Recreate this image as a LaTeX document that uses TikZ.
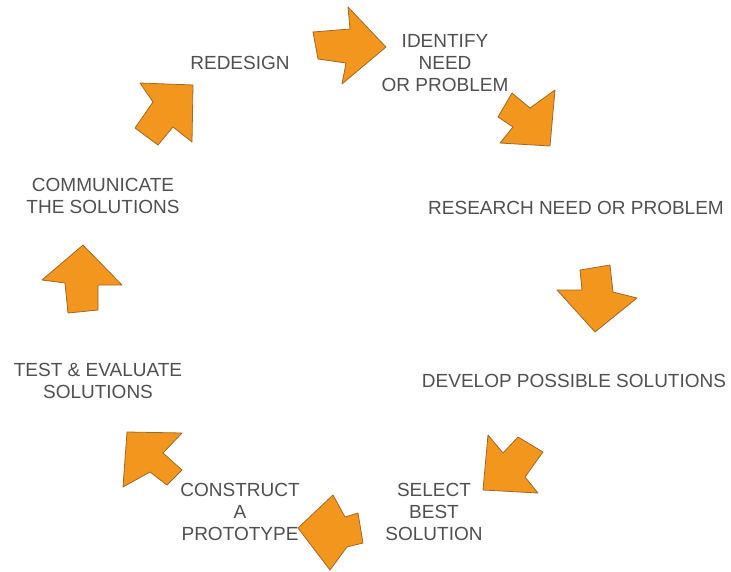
\documentclass[tikz,border=0pt]{standalone}
\usepackage{fontspec}
\setmainfont{Liberation Sans}
\begin{document}
\begin{tikzpicture}[x=1pt,y=-1pt,
  arrowshape/.style={fill=arrorange,draw=arredge,line width=0.8pt,line join=round},
  steplabel/.style={text=labelgray,align=center,inner sep=0pt,
    font=\fontsize{19}{22}\selectfont}]
\definecolor{arrorange}{HTML}{F3961E}
\definecolor{arredge}{HTML}{9A6A2C}
\definecolor{labelgray}{HTML}{505050}
\useasboundingbox[fill=white] (0,0) rectangle (731,571);

% labels of the design cycle
\node[steplabel] (identify) at (445,63) {IDENTIFY\\NEED\\OR PROBLEM};
\node[steplabel] (research) at (576,208) {RESEARCH NEED OR PROBLEM};
\node[steplabel] (develop) at (574,381) {DEVELOP POSSIBLE SOLUTIONS};
\node[steplabel] (select) at (434,512) {SELECT\\BEST\\SOLUTION};
\node[steplabel] (construct) at (240,512) {CONSTRUCT\\A\\PROTOTYPE};
\node[steplabel] (test) at (98,381) {TEST \& EVALUATE\\SOLUTIONS};
\node[steplabel] (communicate) at (103,196) {COMMUNICATE\\THE SOLUTIONS};
\node[steplabel] (redesign) at (240,63) {REDESIGN};

% block arrows between the steps
\draw[arrowshape] (313,32) -- (350,29) -- (348,7) -- (386,47) -- (342,84) -- (346,63) -- (318,59) -- cycle;
\draw[arrowshape] (512,93) -- (530,108) -- (555,90) -- (550,146) -- (500,143) -- (513,127) -- (498,117) -- cycle;
\draw[arrowshape] (580,270) -- (610,265) -- (613,292) -- (637,298) -- (595,332) -- (557,290) -- (582,290) -- cycle;
\draw[arrowshape] (483,490) -- (488,435) -- (503,453) -- (518,437) -- (543,452) -- (525,477) -- (538,493) -- cycle;
\draw[arrowshape] (298,528) -- (333,495) -- (345,517) -- (358,513) -- (363,543) -- (347,547) -- (330,570) -- cycle;
\draw[arrowshape] (127,432) -- (182,433) -- (163,453) -- (182,470) -- (167,485) -- (150,472) -- (123,487) -- cycle;
\draw[arrowshape] (83,245) -- (122,285) -- (98,285) -- (98,310) -- (68,313) -- (65,283) -- (42,280) -- cycle;
\draw[arrowshape] (140,83) -- (193,85) -- (192,142) -- (173,127) -- (158,145) -- (135,128) -- (153,102) -- cycle;
\end{tikzpicture}
\end{document}
